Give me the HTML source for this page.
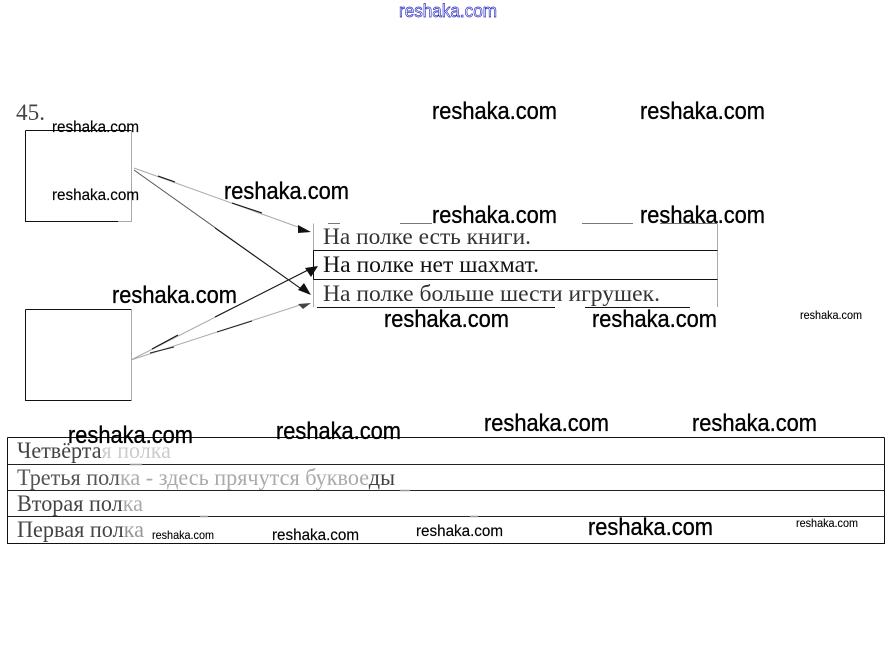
<!DOCTYPE html>
<html lang="ru">
<head>
<meta charset="utf-8">
<title>45</title>
<style>
html,body{margin:0;padding:0;background:#fff;width:893px;height:645px;overflow:hidden}
svg{display:block}
.t{font-family:"Liberation Serif","Noto Serif CJK SC",serif;font-size:23px;fill:#333}
.w text{font-family:"Liberation Sans",sans-serif;fill:#000;font-size:24px;stroke:#000;stroke-width:.35}
.w text.m{font-size:16px;stroke-width:.15}
.w text.s{font-size:12px;stroke-width:.1}
.l{fill:none;stroke:#111;stroke-width:1}
.g{fill:none;stroke:#aaa;stroke-width:1}
</style>
</head>
<body>
<svg width="893" height="645" viewBox="0 0 893 645" xmlns="http://www.w3.org/2000/svg">
<rect width="893" height="645" fill="#fff"/>

<text x="399" y="17" textLength="98" lengthAdjust="spacingAndGlyphs" style="font-family:'Liberation Sans',sans-serif;font-size:18px;fill:#fff;stroke:#1c1cc0;stroke-width:.65">reshaka.com</text>

<text x="16" y="120" textLength="29" lengthAdjust="spacingAndGlyphs" class="t" style="fill:#444">45.</text>

<!-- left boxes -->
<path class="l" d="M25.5 130.5H131.5"/>
<path class="l" d="M25.5 130.5V221.5H118"/>
<path class="g" d="M118 221.5H131.5V130.5"/>
<path class="l" d="M25.5 309.5H131.5"/>
<path class="l" d="M25.5 309.5V400.5H131.5"/>
<path class="g" d="M131.5 309.5V400.5"/>

<!-- arrows -->
<path class="g" d="M134 168L298 227"/>
<path d="M158 176L175 182M232 203L262 213" stroke="#111" fill="none"/>
<path d="M298 225L311 232L298 233Z" fill="#111"/>
<path d="M134 170L300 288" stroke="#555" fill="none"/>
<path d="M215 228L300 288" stroke="#111" fill="none"/>
<path d="M311 295L298 290L304 283Z" fill="#111"/>
<path class="g" d="M131 360L312 268"/>
<path d="M152 349L178 335M215 317L310 269" stroke="#111" fill="none"/>
<path d="M318 266L305 268L311 277Z" fill="#111"/>
<path class="g" d="M131 360L300 305"/>
<path d="M150 353L174 347M217 332L252 321" stroke="#222" fill="none"/>
<path d="M298 304L311 303L303 309Z" fill="#444"/>

<!-- right table -->
<path d="M328 223.5H340M400 223.5H432M582 223.5H633M660 223.5H717" stroke="#777" fill="none"/>
<path class="g" d="M313.5 223.5V307M717.5 223.5V307"/>
<path class="l" d="M313.5 250.5H717.5M313.5 279.5H717.5M317 307.5H555M585 307.5H690"/>
<path class="l" d="M313.5 250.5V279.5"/>
<text x="323" y="244" textLength="208" lengthAdjust="spacingAndGlyphs" class="t">На полке есть книги.</text>
<text x="323" y="272" textLength="216" lengthAdjust="spacingAndGlyphs" class="t" style="fill:#111">На полке нет шахмат.</text>
<text x="323" y="301" textLength="337" lengthAdjust="spacingAndGlyphs" class="t">На полке больше шести игрушек.</text>

<!-- bottom table -->
<path class="l" d="M7.5 437.5H884.5M7.5 437.5V543.5H884.5V437.5"/>
<path d="M7.5 464.5H884.5M7.5 490.5H884.5M7.5 516.5H884.5" stroke="#222" stroke-width="1" fill="none"/>
<path d="M130 464.5H142M400 490.5H410M200 516.5H208M470 516.5H478" stroke="#999" stroke-width="1.5" fill="none"/>
<text x="17" y="458" textLength="154" lengthAdjust="spacingAndGlyphs" class="t" style="fill:#444">Четвёрта<tspan fill="#ccc">я полка</tspan></text>
<text x="17" y="485" textLength="378" lengthAdjust="spacingAndGlyphs" class="t" style="fill:#555">Третья пол<tspan fill="#aaa">ка - здесь прячутся буквое</tspan><tspan fill="#444">ды</tspan></text>
<text x="17" y="511" textLength="126" lengthAdjust="spacingAndGlyphs" class="t" style="fill:#444">Вторая пол<tspan fill="#aaa">ка</tspan></text>
<text x="17" y="537" textLength="127" lengthAdjust="spacingAndGlyphs" class="t" style="fill:#444">Первая пол<tspan fill="#999">ка</tspan></text>

<!-- watermarks -->
<g class="w">
<text x="432" y="119" textLength="125" lengthAdjust="spacingAndGlyphs">reshaka.com</text>
<text x="640" y="119" textLength="125" lengthAdjust="spacingAndGlyphs">reshaka.com</text>
<text x="224" y="199" textLength="125" lengthAdjust="spacingAndGlyphs">reshaka.com</text>
<text x="432" y="223" textLength="125" lengthAdjust="spacingAndGlyphs">reshaka.com</text>
<text x="640" y="223" textLength="125" lengthAdjust="spacingAndGlyphs">reshaka.com</text>
<text x="112" y="303" textLength="125" lengthAdjust="spacingAndGlyphs">reshaka.com</text>
<text x="384" y="327" textLength="125" lengthAdjust="spacingAndGlyphs">reshaka.com</text>
<text x="592" y="327" textLength="125" lengthAdjust="spacingAndGlyphs">reshaka.com</text>
<text x="484" y="431" textLength="125" lengthAdjust="spacingAndGlyphs">reshaka.com</text>
<text x="692" y="431" textLength="125" lengthAdjust="spacingAndGlyphs">reshaka.com</text>
<text x="276" y="439" textLength="125" lengthAdjust="spacingAndGlyphs">reshaka.com</text>
<text x="68" y="443" textLength="125" lengthAdjust="spacingAndGlyphs">reshaka.com</text>
<text x="588" y="535" textLength="125" lengthAdjust="spacingAndGlyphs">reshaka.com</text>
<text class="m" x="52" y="132" textLength="87" lengthAdjust="spacingAndGlyphs">reshaka.com</text>
<text class="m" x="52" y="200" textLength="87" lengthAdjust="spacingAndGlyphs">reshaka.com</text>
<text class="m" x="272" y="540" textLength="87" lengthAdjust="spacingAndGlyphs">reshaka.com</text>
<text class="m" x="416" y="536" textLength="87" lengthAdjust="spacingAndGlyphs">reshaka.com</text>
<text class="s" x="800" y="319" textLength="62" lengthAdjust="spacingAndGlyphs">reshaka.com</text>
<text class="s" x="796" y="527" textLength="62" lengthAdjust="spacingAndGlyphs">reshaka.com</text>
<text class="s" x="152" y="539" textLength="62" lengthAdjust="spacingAndGlyphs">reshaka.com</text>
</g>
</svg>
</body>
</html>
